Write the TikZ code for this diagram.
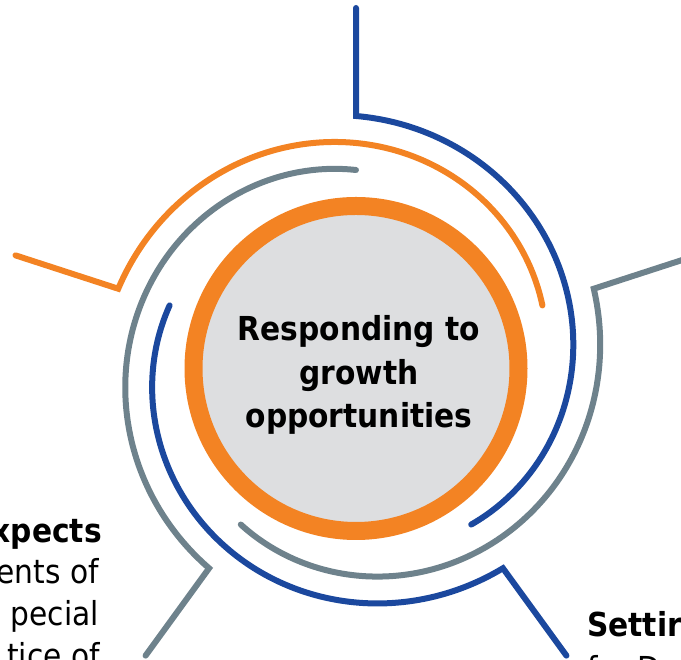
\documentclass[tikz,border=0pt]{standalone}
\usepackage{fontspec}
\setmainfont{DejaVu Sans Condensed}
\definecolor{cblue}{RGB}{27,72,158}
\definecolor{corange}{RGB}{243,131,35}
\definecolor{cgray}{RGB}{110,130,140}
\definecolor{cfill}{RGB}{221,222,224}
\tikzset{
  arm/.style={line width=6pt, line cap=round, line join=miter},
  ctext/.style={font=\fontsize{33}{40}\selectfont\bfseries, anchor=base, inner sep=0pt},
  stext/.style={font=\fontsize{33}{40}\selectfont, inner sep=0pt},
  sbold/.style={font=\fontsize{33}{40}\selectfont\bfseries, inner sep=0pt},
}
\newcommand{\spiralarm}[2]{% #1 colour, #2 start angle
  \draw[arm, #1] ({356+358*cos(#2)},{294+358*sin(#2)}) --
    plot[domain=0:144, samples=120, smooth]
    ({356+(250-54*\x/144)*cos(#2-\x)},{294+(250-54*\x/144)*sin(#2-\x)});
}
\begin{document}
\begin{tikzpicture}[x=1pt,y=1pt]
\useasboundingbox (0,0) rectangle (681,660);
\clip (0,0) rectangle (681,660);
% centre circle
\node[circle, draw=corange, line width=18pt, fill=cfill, minimum size=325pt, inner sep=0pt] (hub) at (356,291.5) {};
\node[ctext] (t1) at (359,319) {Responding to};
\node[ctext] (t2) at (359,275) {growth};
\node[ctext] (t3) at (359,232) {opportunities};
% spiral arms
\spiralarm{cblue}{90}
\spiralarm{cgray}{18}
\spiralarm{corange}{162}
\spiralarm{cgray}{234}
\spiralarm{cblue}{306}
% side texts
\node[sbold, anchor=base east] (l1) at (102,117) {xpects};
\node[stext, anchor=base east] (l2) at (99,76) {ents of};
\node[stext, anchor=base east] (l3) at (99,34) {pecial};
\node[stext, anchor=base east] (l4) at (100,-8) {tice of};
\node[sbold, anchor=base west] (r1) at (587,23) {Settir};
\node[stext, anchor=base west] (r2) at (587,-21) {for D};
\end{tikzpicture}
\end{document}
